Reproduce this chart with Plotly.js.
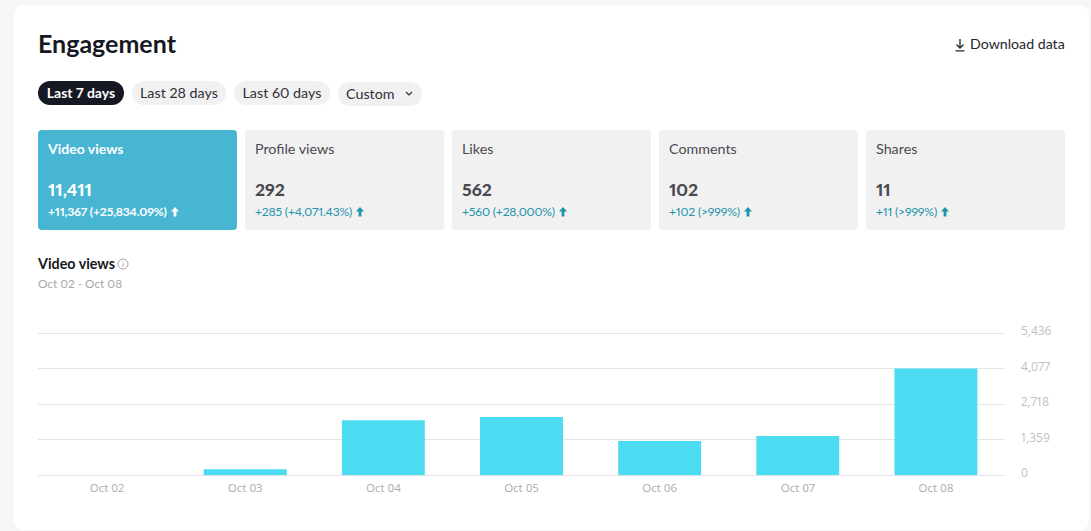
<!DOCTYPE html>
<html><head><meta charset="utf-8">
<script src="https://cdn.plot.ly/plotly-3.0.1.min.js"></script>
<style>
html,body{margin:0;padding:0;width:1091px;height:531px;overflow:hidden;background:#f5f6f8;font-family:Lato,"Open Sans",sans-serif;font-variant-numeric:proportional-nums;font-feature-settings:"pnum";}
#panel{position:absolute;left:14px;top:5px;width:1075px;height:525px;background:#fff;border-radius:9px;}
.t{position:absolute;white-space:nowrap;line-height:1;}
.pill{position:absolute;height:24px;line-height:23px;border-radius:12px;background:#f1f1f2;color:#2f2f36;font-size:14.3px;text-align:center;box-sizing:border-box;}
.pill.on{background:#161823;color:#fff;font-weight:700;font-size:14px;}
.card{position:absolute;top:130px;width:199px;height:100px;border-radius:4px;background:#f1f1f2;color:#4a4a50;}
.card.on{background:#48b5d3;color:#fff;}
.card .n{position:absolute;left:10px;top:10px;font-size:14.3px;white-space:nowrap;}
.card .v{position:absolute;left:10px;top:49px;font-size:17.5px;font-weight:900;white-space:nowrap;}
.card .d{position:absolute;left:10px;top:74px;font-size:12.2px;letter-spacing:-0.2px;color:#1f94ad;white-space:nowrap;}
.card.on .n{font-weight:700;font-size:14px}.card.on .d{color:#fff;font-weight:700;}
.card svg{vertical-align:-1px;margin-left:1px}
#chart{position:absolute;left:0;top:300px;width:1091px;height:231px;}
</style></head><body>
<div id="panel"></div>
<div class="t" style="left:38px;top:31px;font-size:25px;font-weight:700;color:#161823;">Engagement</div>
<div class="t" style="left:970px;top:37px;font-size:14.2px;color:#25252b;">Download data</div>
<svg style="position:absolute;left:954px;top:38px" width="12" height="14" viewBox="0 0 12 14" fill="none" stroke="#25252b" stroke-width="1.3"><path d="M6 1V10M2.5 6.5L6 10L9.5 6.5M1.5 12.8H10.5"/></svg>
<div id="pills"></div>
<div id="cards"></div>
<div class="t" style="left:38px;top:257px;font-size:14.3px;font-weight:700;color:#161823;">Video views</div>
<svg style="position:absolute;left:117px;top:258px" width="12" height="12" viewBox="0 0 12 12" fill="none" stroke="#9a9a9f" stroke-width="0.9"><circle cx="6" cy="6" r="5"/><path d="M6 5.2V8.8M6 3.2V4.2"/></svg>
<div class="t" style="left:38px;top:278px;font-size:11.8px;color:#a8a8ac;">Oct 02 - Oct 08</div>
<div id="chart"></div>
<script>
const days = ["Oct 02","Oct 03","Oct 04","Oct 05","Oct 06","Oct 07","Oct 08"];
const videoViews = [0,220,2100,2220,1300,1494,4077];
const yTicks = [0,1359,2718,4077,5436];
const yTickLabels = ["0","1,359","2,718","4,077","5,436"];
const metricNames = ["Video views","Profile views","Likes","Comments","Shares"];
const metricValues = ["11,411","292","562","102","11"];
const metricDeltas = ["+11,367 (+25,834.09%)","+285 (+4,071.43%)","+560 (+28,000%)","+102 (>999%)","+11 (>999%)"];
const rangeLabels = ["Last 7 days","Last 28 days","Last 60 days","Custom"];

const pillBoxes = [[38,81,86],[132,81,94],[234,81,96],[338,82,84]];
document.getElementById('pills').innerHTML = rangeLabels.map((l,i)=>{
  const b = pillBoxes[i];
  const chev = l==="Custom" ? '<svg style="position:absolute;left:67px;top:9px" width="8" height="6" viewBox="0 0 8 6" fill="none" stroke="#2f2f36" stroke-width="1.2"><path d="M1 1L4 4L7 1"/></svg>' : '';
  const pad = l==="Custom" ? 'text-align:left;padding-left:8px;' : '';
  return `<div class="pill${i===0?' on':''}" style="left:${b[0]}px;top:${b[1]}px;width:${b[2]}px;${pad}">${l}${chev}</div>`;
}).join('');
document.getElementById('cards').innerHTML = metricNames.map((n,i)=>{
  const on = i===0;
  const col = on ? '#fff' : '#1f94ad';
  return `<div class="card${on?' on':''}" style="left:${38+207*i}px"><div class="n">${n}</div><div class="v">${metricValues[i]}</div><div class="d">${metricDeltas[i].replace(/>/g,'&gt;')} <svg width="8" height="10" viewBox="0 0 8 10"><path d="M4 0L8 4.6H5.4V9.5H2.6V4.6H0Z" fill="${col}"/></svg></div></div>`;
}).join('');

Plotly.newPlot('chart',[{
  type:'bar', x:days, y:videoViews, width:0.6,
  marker:{color:'#4bdcf1'}, hoverinfo:'x+y'
}],{
  width:1091, height:231, showlegend:false,
  margin:{l:38,r:86,t:31.3,b:56,pad:0},
  paper_bgcolor:'rgba(0,0,0,0)', plot_bgcolor:'rgba(0,0,0,0)',
  xaxis:{type:'category',range:[-0.5,6.5],showgrid:false,zeroline:false,showline:false,ticks:'',
    tickfont:{family:'"Open Sans",sans-serif',size:11.5,color:'#ababaf'},ticklabelstandoff:4},
  yaxis:{side:'right',range:[0,5513],tickmode:'array',tickvals:yTicks,ticktext:yTickLabels,
    showgrid:true,gridcolor:'#e3e4e6',gridwidth:1,zeroline:true,zerolinecolor:'#e3e4e6',zerolinewidth:1,showline:false,ticks:'',
    tickfont:{family:'"Open Sans",sans-serif',size:12,color:'#c0c0c4'},ticklabelstandoff:15,ticklabelshift:-2}
},{displayModeBar:false,responsive:false});
</script>
</body></html>
